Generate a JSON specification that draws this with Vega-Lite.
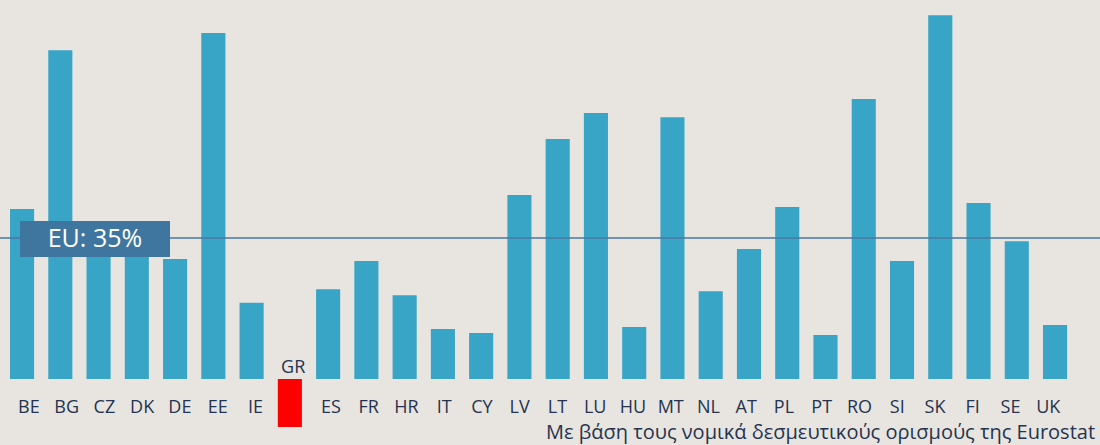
{
  "$schema": "https://vega.github.io/schema/vega-lite/v6.json",
  "width": 1100,
  "height": 445,
  "autosize": {"type": "none"},
  "padding": 0,
  "background": "#e8e4e0",
  "config": {"view": {"stroke": null}, "font": "Open Sans"},
  "datasets": {
    "countries": [
      {"country": "BE", "value": 42.2},
      {"country": "BG", "value": 81.6},
      {"country": "CZ", "value": 33.5},
      {"country": "DK", "value": 33.5},
      {"country": "DE", "value": 29.8},
      {"country": "EE", "value": 85.9},
      {"country": "IE", "value": 18.9},
      {"country": "GR", "value": -11.9},
      {"country": "ES", "value": 22.3},
      {"country": "FR", "value": 29.3},
      {"country": "HR", "value": 20.8},
      {"country": "IT", "value": 12.4},
      {"country": "CY", "value": 11.4},
      {"country": "LV", "value": 45.7},
      {"country": "LT", "value": 59.6},
      {"country": "LU", "value": 66.0},
      {"country": "HU", "value": 12.9},
      {"country": "MT", "value": 65.0},
      {"country": "NL", "value": 21.8},
      {"country": "AT", "value": 32.3},
      {"country": "PL", "value": 42.7},
      {"country": "PT", "value": 10.9},
      {"country": "RO", "value": 69.5},
      {"country": "SI", "value": 29.3},
      {"country": "SK", "value": 90.3},
      {"country": "FI", "value": 43.7},
      {"country": "SE", "value": 34.2},
      {"country": "UK", "value": 13.4}
    ],
    "annotation": [
      {"label": "EU: 35%", "x": 0.261, "x2": 4.182, "xc": 2.22, "y": 39.2, "y2": 30.3, "yc": 34.75}
    ],
    "note": [
      {"text": "Με βάση τους νομικά δεσμευτικούς ορισμούς της Eurostat", "x": 28.36, "y": -15.0}
    ]
  },
  "resolve": {"scale": {"x": "independent"}},
  "layer": [
    {
      "data": {"name": "countries"},
      "mark": {"type": "bar"},
      "encoding": {
        "x": {"field": "country", "type": "nominal", "sort": null, "axis": null,
              "scale": {"domain": ["BE","BG","CZ","DK","DE","EE","IE","GR","ES","FR","HR","IT","CY","LV","LT","LU","HU","MT","NL","AT","PL","PT","RO","SI","SK","FI","SE","UK"], "range": [10, 1067.1], "paddingInner": 0.37, "paddingOuter": 0}},
        "y": {"field": "value", "type": "quantitative", "axis": null,
              "scale": {"domain": [-16.38, 94.08], "nice": false, "zero": false}},
        "color": {"condition": {"test": "datum.country === 'GR'", "value": "#ff0000"}, "value": "#39a5c6"}
      }
    },
    {
      "data": {"name": "countries"},
      "transform": [{"filter": "datum.value >= 0"}],
      "mark": {"type": "text", "baseline": "alphabetic", "align": "center", "dy": 34, "fontSize": 18, "color": "#24344e"},
      "encoding": {
        "x": {"field": "country", "type": "nominal", "sort": null, "axis": null,
              "scale": {"domain": ["BE","BG","CZ","DK","DE","EE","IE","GR","ES","FR","HR","IT","CY","LV","LT","LU","HU","MT","NL","AT","PL","PT","RO","SI","SK","FI","SE","UK"], "range": [10, 1067.1], "paddingInner": 0.37, "paddingOuter": 0}},
        "y": {"datum": 0, "type": "quantitative"},
        "text": {"field": "country"}
      }
    },
    {
      "data": {"name": "countries"},
      "transform": [{"filter": "datum.value < 0"}],
      "mark": {"type": "text", "baseline": "alphabetic", "align": "center", "dy": -6, "fontSize": 18, "color": "#24344e"},
      "encoding": {
        "x": {"field": "country", "type": "nominal", "sort": null, "axis": null,
              "scale": {"domain": ["BE","BG","CZ","DK","DE","EE","IE","GR","ES","FR","HR","IT","CY","LV","LT","LU","HU","MT","NL","AT","PL","PT","RO","SI","SK","FI","SE","UK"], "range": [10, 1067.1], "paddingInner": 0.37, "paddingOuter": 0}},
        "y": {"datum": 0, "type": "quantitative"},
        "text": {"field": "country"}
      }
    },
    {
      "data": {"values": [{"eu": 35}]},
      "mark": {"type": "rule", "color": "#4a78a0", "strokeWidth": 1.5},
      "encoding": {
        "y": {"field": "eu", "type": "quantitative"}
      }
    },
    {
      "data": {"name": "annotation"},
      "mark": {"type": "rect", "color": "#3f76a0", "opacity": 1},
      "encoding": {
        "x": {"field": "x", "type": "quantitative", "axis": null,
              "scale": {"domain": [-0.2614, 28.49], "nice": false, "zero": false}},
        "x2": {"field": "x2"},
        "y": {"field": "y", "type": "quantitative"},
        "y2": {"field": "y2"}
      }
    },
    {
      "data": {"name": "annotation"},
      "mark": {"type": "text", "color": "#ffffff", "fontSize": 25, "align": "center", "baseline": "middle"},
      "encoding": {
        "x": {"field": "xc", "type": "quantitative", "axis": null,
              "scale": {"domain": [-0.2614, 28.49], "nice": false, "zero": false}},
        "y": {"field": "yc", "type": "quantitative"},
        "text": {"field": "label"}
      }
    },
    {
      "data": {"name": "note"},
      "mark": {"type": "text", "color": "#24344e", "fontSize": 20, "align": "right", "baseline": "alphabetic"},
      "encoding": {
        "x": {"field": "x", "type": "quantitative", "axis": null,
              "scale": {"domain": [-0.2614, 28.49], "nice": false, "zero": false}},
        "y": {"field": "y", "type": "quantitative"},
        "text": {"field": "text"}
      }
    }
  ]
}
